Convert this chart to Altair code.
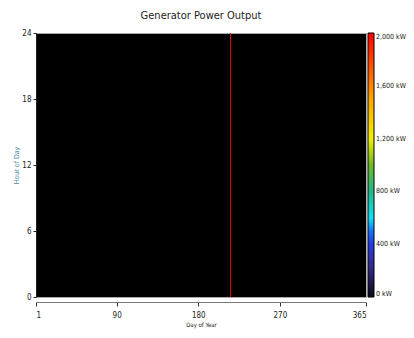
import altair as alt
import pandas as pd

# Generator output (kW) per hour of day for the only day with output
days = [215] * 24
hours = list(range(24))
power_kw = [2000, 2000, 2000, 2000, 2000, 2000, 2000, 2000, 2000, 2000, 2000, 2000,
            2000, 2000, 2000, 2000, 2000, 2000, 2000, 2000, 2000, 2000, 2000, 2000]

x_ticks = [1, 90, 180, 270, 365]
y_ticks = [0, 6, 12, 18, 24]
legend_ticks = [0, 400, 800, 1200, 1600, 2000]

color_domain = [0, 250, 450, 600, 800, 1000, 1200, 1500, 2000]
color_range = ["#0a0a1e", "#3a3090", "#1a3cff", "#10e0f0", "#20b888",
               "#70b828", "#f0f000", "#ffa500", "#ff0000"]

df = pd.DataFrame({"day": days, "hour": hours, "kw": power_kw})
df["day2"] = df["day"] + 1
df["hour2"] = df["hour"] + 1

FONT = "'DejaVu Sans Condensed', 'Liberation Sans Narrow', 'DejaVu Sans', sans-serif"

chart = alt.Chart(df).mark_rect().encode(
    x=alt.X("day:Q", scale=alt.Scale(domain=[1, 365], nice=False, zero=False),
            axis=alt.Axis(values=x_ticks, title="Day of Year", offset=5, grid=False,
                          domainColor="#777777", tickColor="#333333", tickSize=4,
                          labelFontSize=8, labelFont=FONT, labelColor="#222222",
                          titleFontSize=6, titleFont=FONT, titleFontWeight="normal",
                          titleColor="#222222", titlePadding=2, labelPadding=5)),
    x2="day2:Q",
    y=alt.Y("hour:Q", scale=alt.Scale(domain=[0, 24], nice=False),
            axis=alt.Axis(values=y_ticks, title="Hour of Day", grid=False,
                          domainColor="#222222", tickColor="#222222", tickSize=3,
                          labelFontSize=8, labelFont=FONT, labelColor="#222222",
                          titleFontSize=7, titleFont=FONT, titleFontWeight="normal",
                          titleColor="#4a8fa8", titleX=-17, titleY=132, labelPadding=2)),
    y2="hour2:Q",
    color=alt.Color("kw:Q", scale=alt.Scale(domain=color_domain, range=color_range,
                                            interpolate="rgb"),
                    legend=alt.Legend(title=None, orient="none", legendX=332, legendY=0,
                                      direction="vertical", gradientLength=264,
                                      gradientThickness=6, values=legend_ticks,
                                      labelExpr="format(datum.value, ',') + ' kW'",
                                      labelFontSize=7, labelFont=FONT,
                                      labelColor="#222222", gradientStrokeColor="#000000",
                                      gradientStrokeWidth=1, labelOffset=2)),
).properties(
    width=330, height=264,
    title=alt.TitleParams("Generator Power Output", fontSize=11, font=FONT,
                          fontWeight="normal", color="#222222", anchor="middle", offset=8),
    autosize=alt.AutoSizeParams(type="none"),
    padding={"left": 28, "top": 25, "right": 40, "bottom": 33},
).configure_view(fill="#000000", stroke="#aaaaaa", strokeWidth=1)

chart.save("out.html", embed_options={"renderer": "svg", "actions": False})
